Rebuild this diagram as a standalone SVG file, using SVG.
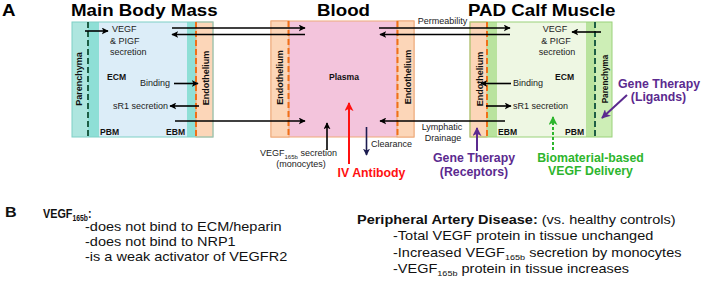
<svg xmlns="http://www.w3.org/2000/svg" width="702" height="281" viewBox="0 0 702 281">
<defs>
<style>
text{font-family:"Liberation Sans",Arial,sans-serif;fill:#1a1a1a}
.t{font-size:16px;font-weight:bold;fill:#000}
.s{font-size:9px;fill:#222}
.sb{font-size:8.6px;font-weight:bold;fill:#111}
.v{font-size:9px;font-weight:bold;fill:#111}
.lab{font-size:12.3px;font-weight:bold;text-anchor:middle}
.bt{font-size:12px;fill:#111}
.bb{font-size:12px;font-weight:bold;fill:#111}
.mid{text-anchor:middle}
.ar{stroke:#000;stroke-width:1.6;fill:none;marker-end:url(#ah)}
.endo{fill:#fcd6b8;stroke:#eeaa7a;stroke-width:1}
.od{stroke:#f07018;stroke-width:2;stroke-dasharray:6 3;fill:none}
.gd{stroke:#1d5e45;stroke-width:2;stroke-dasharray:6 3;fill:none}
</style>
<marker id="ah" viewBox="0 0 10 10" refX="9" refY="5" markerWidth="7" markerHeight="7" markerUnits="userSpaceOnUse" orient="auto"><path d="M0,0 L10,5 L0,10 L2.5,5 z" fill="#000"/></marker>
<marker id="ahn" viewBox="0 0 10 10" refX="9" refY="5" markerWidth="7" markerHeight="7" markerUnits="userSpaceOnUse" orient="auto"><path d="M0,0 L10,5 L0,10 L2.5,5 z" fill="#1c1c50"/></marker>
<marker id="ahr" viewBox="0 0 10 10" refX="9" refY="5" markerWidth="9" markerHeight="9" markerUnits="userSpaceOnUse" orient="auto"><path d="M0,0 L10,5 L0,10 L2.5,5 z" fill="#ff1010"/></marker>
<marker id="ahg" viewBox="0 0 10 10" refX="9" refY="5" markerWidth="9" markerHeight="9" markerUnits="userSpaceOnUse" orient="auto"><path d="M0,0 L10,5 L0,10 L2.5,5 z" fill="#2db52d"/></marker>
<marker id="ahp" viewBox="0 0 10 10" refX="9" refY="5" markerWidth="9" markerHeight="9" markerUnits="userSpaceOnUse" orient="auto"><path d="M0,0 L10,5 L0,10 L2.5,5 z" fill="#5b2a8f"/></marker>
</defs>

<rect width="702" height="281" fill="#fff"/>

<g id="titles">
<text class="t" transform="translate(2 16) scale(1.17 1)">A</text>
<text class="t" transform="translate(71 16) scale(1.17 1)">Main Body Mass</text>
<text class="t" transform="translate(317 16) scale(1.17 1)">Blood</text>
<text class="t" transform="translate(468 16) scale(1.17 1)">PAD Calf Muscle</text>
</g>

<g id="main-body-mass">
<rect x="72" y="22" width="141" height="115" fill="#dcedf8"/>
<rect x="72" y="22" width="16" height="115" fill="#aee6df"/>
<rect x="88" y="22" width="11" height="115" fill="#8edfd6"/>
<rect x="187" y="22" width="9" height="115" fill="#8edfd6"/>
<rect x="196" y="22" width="17" height="115" class="endo"/>
<rect x="72" y="22" width="141" height="115" fill="none" stroke="#7fd0c6"/>
<line x1="88" y1="22" x2="88" y2="137" class="gd"/>
<line x1="196" y1="22" x2="196" y2="137" class="od"/>
<text class="v mid" transform="translate(82 79) rotate(-90)">Parenchyma</text>
<text class="v mid" transform="translate(208.5 78) rotate(-90)">Endothelium</text>
<text class="s" x="112" y="32">VEGF</text>
<text class="s" x="110" y="43.5">&amp; PIGF</text>
<text class="s" x="110" y="55">secretion</text>
<text class="sb" x="107" y="80">ECM</text>
<text class="s" x="140" y="86">Binding</text>
<text class="s" x="113" y="108.5">sR1 secretion</text>
<text class="sb" x="100" y="135">PBM</text>
<text class="sb" x="166" y="135">EBM</text>
</g>

<g id="blood">
<rect x="271" y="21" width="143" height="116" fill="#f3c4dc" stroke="#eeaa7a"/>
<rect x="271" y="21" width="18" height="116" class="endo"/>
<rect x="397" y="21" width="17" height="116" class="endo"/>
<line x1="288.5" y1="21" x2="288.5" y2="137" class="od"/>
<line x1="397.5" y1="21" x2="397.5" y2="137" class="od"/>
<text class="v mid" transform="translate(282.5 77.5) rotate(-90)">Endothelium</text>
<text class="v mid" transform="translate(411 77) rotate(-90)">Endothelium</text>
<text class="sb mid" x="344" y="79.5">Plasma</text>
</g>

<g id="pad-calf-muscle">
<rect x="470" y="22" width="142" height="115" fill="#eef7e3"/>
<rect x="470" y="22" width="17" height="115" class="endo"/>
<rect x="487" y="22" width="10" height="115" fill="#b9e39e"/>
<rect x="586" y="22" width="9" height="115" fill="#b9e39e"/>
<rect x="595" y="22" width="17" height="115" fill="#cdeeb6"/>
<rect x="470" y="22" width="142" height="115" fill="none" stroke="#9ad27a"/>
<line x1="487" y1="22" x2="487" y2="137" class="od"/>
<line x1="595" y1="22" x2="595" y2="137" class="gd"/>
<text class="v mid" transform="translate(482.5 79) rotate(-90)">Endothelium</text>
<text class="v mid" transform="translate(608 79) rotate(-90)" style="font-size:8.2px">Parenchyma</text>
<text class="s mid" x="555" y="32">VEGF</text>
<text class="s mid" x="556" y="43.5">&amp; PIGF</text>
<text class="s mid" x="557" y="55">secretion</text>
<text class="sb" x="555" y="80">ECM</text>
<text class="s" x="513" y="86">Binding</text>
<text class="s" x="513" y="108.5">sR1 secretion</text>
<text class="sb" x="498" y="135">EBM</text>
<text class="sb" x="565" y="135">PBM</text>
</g>

<g id="flow-labels">
<text class="s mid" x="442.5" y="24">Permeability</text>
<text class="s mid" x="442" y="130">Lymphatic</text>
<text class="s mid" x="443" y="141">Drainage</text>
<text class="s" x="371" y="147">Clearance</text>
<text class="s" x="260" y="156">VEGF<tspan font-size="6" dy="2.5">165b</tspan><tspan dy="-2.5"> secretion</tspan></text>
<text class="s mid" x="301" y="167">(monocytes)</text>
</g>

<g id="iv-antibody">
<text class="lab" x="371.5" y="177" style="fill:#ff1010">IV Antibody</text>
</g>
<g id="gene-therapy-receptors">
<text class="lab" x="474" y="162" style="fill:#5b2a8f">Gene Therapy</text>
<text class="lab" x="474" y="176" style="fill:#5b2a8f">(Receptors)</text>
</g>
<g id="biomaterial-delivery">
<text class="lab" x="590.5" y="162" style="fill:#2db52d">Biomaterial-based</text>
<text class="lab" x="590.5" y="175" style="fill:#2db52d">VEGF Delivery</text>
</g>
<g id="gene-therapy-ligands">
<text class="lab" x="659" y="88" style="fill:#5b2a8f">Gene Therapy</text>
<text class="lab" x="658.5" y="101" style="fill:#5b2a8f">(Ligands)</text>
</g>

<g id="connectors">
<line class="ar" x1="172" y1="28" x2="305" y2="28"/>
<line class="ar" x1="305" y1="34.5" x2="172" y2="34.5"/>
<line class="ar" x1="85" y1="31" x2="108" y2="31"/>
<line class="ar" x1="174" y1="83.5" x2="198" y2="83.5"/>
<line class="ar" x1="199" y1="106" x2="170" y2="106"/>
<line class="ar" x1="175" y1="121" x2="305" y2="121"/>
<line class="ar" x1="379" y1="28" x2="510" y2="28"/>
<line class="ar" x1="510" y1="34.5" x2="380" y2="34.5"/>
<line class="ar" x1="505" y1="121" x2="380" y2="121"/>
<line class="ar" x1="601" y1="32" x2="572" y2="32"/>
<line class="ar" x1="511" y1="83.5" x2="481" y2="83.5"/>
<line class="ar" x1="486" y1="106" x2="511" y2="106"/>
<line class="ar" x1="327" y1="150" x2="327" y2="123"/>
<line x1="366.5" y1="127" x2="366.5" y2="155" stroke="#1c1c50" stroke-width="1.6" marker-end="url(#ahn)"/>
<line x1="349" y1="164" x2="349" y2="103" stroke="#ff1010" stroke-width="2" marker-end="url(#ahr)"/>
<line x1="477" y1="151" x2="477" y2="128" stroke="#5b2a8f" stroke-width="2" marker-end="url(#ahp)"/>
<line x1="553" y1="150" x2="553" y2="117" stroke="#2db52d" stroke-width="2" stroke-dasharray="3 2" marker-end="url(#ahg)"/>
<line x1="627" y1="95" x2="602" y2="118" stroke="#5b2a8f" stroke-width="2" marker-end="url(#ahp)"/>
</g>

<g id="panel-b">
<text class="bb" transform="translate(5 217) scale(1.15 1)" style="font-size:14px">B</text>
<text class="bb" transform="translate(43 218) scale(0.8 1)" style="font-size:13.5px">VEGF<tspan font-size="8.5" dy="3">165b</tspan><tspan dy="-3">:</tspan></text>
<text class="bt" transform="translate(85 231) scale(1.21 1)">-does not bind to ECM/heparin</text>
<text class="bt" transform="translate(85 246) scale(1.21 1)">-does not bind to NRP1</text>
<text class="bt" transform="translate(85 261) scale(1.21 1)">-is a weak activator of VEGFR2</text>
<text class="bt" transform="translate(357 224) scale(1.21 1)"><tspan style="font-weight:bold">Peripheral Artery Disease:</tspan> (vs. healthy controls)</text>
<text class="bt" transform="translate(393 240) scale(1.21 1)">-Total VEGF protein in tissue unchanged</text>
<text class="bt" transform="translate(393 257) scale(1.21 1)">-Increased VEGF<tspan font-size="7.5" dy="3">165b</tspan><tspan dy="-3"> secretion by monocytes</tspan></text>
<text class="bt" transform="translate(393 273) scale(1.21 1)">-VEGF<tspan font-size="7.5" dy="3">165b</tspan><tspan dy="-3"> protein in tissue increases</tspan></text>
</g>
</svg>
